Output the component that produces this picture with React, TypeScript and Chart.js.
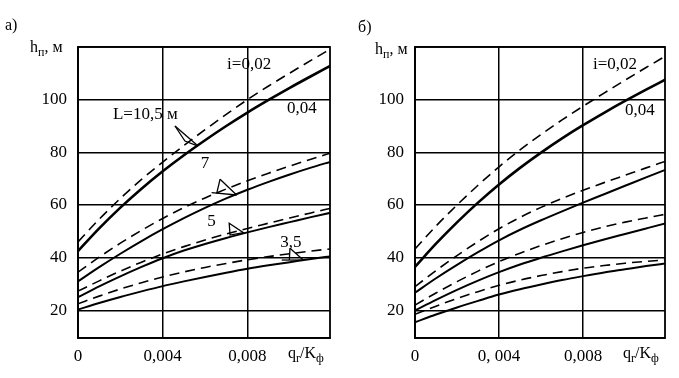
import React, { useEffect, useRef } from "react";
import { Chart, registerables } from "chart.js";
Chart.register(...registerables);

// ---- data ----
const qValues = [0, 0.001, 0.002, 0.003, 0.004, 0.005, 0.006, 0.007, 0.008, 0.009, 0.01, 0.011, 0.012];
const xTickValues = [0, 0.004, 0.008];
const xTickLabelsA = ["0", "0,004", "0,008"];
const xTickLabelsB = ["0", "0, 004", "0,008"];
const yTickValues = [20, 40, 60, 80, 100, 120];
const yTickLabels = ["20", "40", "60", "80", "100", ""];

// panel а)
const aL105i002 = [46, 54.6, 62.5, 69.7, 76.3, 82.6, 88.6, 94.4, 100.0, 105.2, 110.1, 114.9, 119.6];
const aL105i004 = [42.5, 51.1, 59.0, 66.2, 72.8, 78.9, 84.6, 90.0, 95.1, 99.9, 104.5, 108.9, 113.2];
const aL7i002 = [34.5, 40.2, 45.5, 50.4, 54.9, 59.0, 62.7, 66.1, 69.2, 72.1, 74.8, 77.4, 79.9];
const aL7i004 = [31, 36.4, 41.5, 46.3, 50.8, 55.0, 58.9, 62.5, 65.8, 68.8, 71.6, 74.2, 76.6];
const aL5i002 = [27.3, 31.2, 34.9, 38.3, 41.4, 44.2, 46.7, 49.0, 51.1, 53.1, 55.1, 57.0, 58.9];
const aL5i004 = [25, 29.1, 32.9, 36.5, 39.8, 42.7, 45.2, 47.5, 49.6, 51.6, 53.5, 55.4, 57.2];
const aL35i002 = [22.5, 25.4, 28.1, 30.5, 32.7, 34.6, 36.3, 37.8, 39.2, 40.4, 41.5, 42.5, 43.4];
const aL35i004 = [20.3, 22.8, 25.1, 27.2, 29.2, 31.0, 32.7, 34.3, 35.8, 37.1, 38.3, 39.5, 40.6];

// panel б)
const bL105i002 = [43.3, 52.0, 60.0, 67.5, 74.5, 80.9, 86.8, 92.3, 97.5, 102.5, 107.4, 112.2, 116.9];
const bL105i004 = [36.5, 45.3, 53.4, 60.9, 67.8, 74.1, 79.9, 85.3, 90.3, 95.0, 99.5, 103.8, 108.0];
const bL7i002 = [29, 35.1, 40.8, 46.1, 51.0, 55.3, 59.1, 62.5, 65.6, 68.5, 71.3, 74.1, 76.8];
const bL7i004 = [26.7, 32.2, 37.3, 42.1, 46.6, 50.6, 54.2, 57.6, 60.9, 64.1, 67.3, 70.5, 73.6];
const bL5i002 = [22, 26.6, 30.9, 34.9, 38.5, 41.7, 44.6, 47.2, 49.6, 51.7, 53.5, 55.1, 56.6];
const bL5i004 = [20, 24, 27.8, 31.3, 34.5, 37.4, 40.0, 42.4, 44.7, 46.9, 49.0, 51.1, 53.2];
const bL35i002 = [18.5, 21.6, 24.5, 27.1, 29.5, 31.5, 33.2, 34.7, 36.0, 37.0, 37.9, 38.6, 39.2];
const bL35i004 = [15.5, 18.4, 21.1, 23.6, 26.0, 28.0, 29.8, 31.5, 33.0, 34.4, 35.6, 36.8, 37.9];

const X_MAX = 0.0119;
const Y_MIN = 9.5;
const Y_MAX = 120;
const FONT = '"Liberation Serif", "Times New Roman", serif';

type Label = { text: string; q: number; v: number };
type Marker = { pts: [number, number][]; closed?: boolean };

const aLabels: Label[] = [
  { text: "i=0,02", q: 0.00704, v: 113.2 },
  { text: "0,04", q: 0.00987, v: 96.5 },
  { text: "L=10,5 м", q: 0.00165, v: 94.2 },
  { text: "7", q: 0.0058, v: 75.6 },
  { text: "5", q: 0.0061, v: 53.9 },
  { text: "3,5", q: 0.00955, v: 45.9 },
];
const aMarkers: Marker[] = [
  { pts: [[0.00458, 90], [0.00567, 82.4]] },
  { pts: [[0.00458, 90], [0.00505, 84.3], [0.00567, 82.4]] },
  { pts: [[0.00671, 69.8], [0.00655, 64.4]] },
  { pts: [[0.00671, 69.8], [0.00749, 63.8]] },
  { pts: [[0.00631, 64.7], [0.00749, 63.8]] },
  { pts: [[0.00714, 53.05], [0.00718, 48.6], [0.00781, 49.5]], closed: true },
  { pts: [[0.01001, 43.6], [0.00998, 39.1]] },
  { pts: [[0.01001, 43.6], [0.01064, 39.1]] },
  { pts: [[0.00962, 39.1], [0.01064, 39.1]] },
];
const bLabels: Label[] = [
  { text: "i=0,02", q: 0.00847, v: 113.5 },
  { text: "0,04", q: 0.01, v: 95.7 },
];
const bMarkers: Marker[] = [];

type PanelProps = {
  left: number;
  width: number;
  yAxisWidth: number;
  padRight: number;
  letter: string;
  letterX: number;
  letterY: number;
  titleDX: number;
  titleDY: number;
  series: number[][];
  xLabels: string[];
  labels: Label[];
  markers: Marker[];
};

function drawRich(
  ctx: CanvasRenderingContext2D,
  x: number,
  y: number,
  parts: { t: string; sub?: boolean }[],
  size: number
) {
  let cx = x;
  for (const p of parts) {
    const s = p.sub ? Math.round(size * 0.72) : size;
    ctx.font = `${s}px ${FONT}`;
    ctx.fillText(p.t, cx, p.sub ? y + size * 0.22 : y);
    cx += ctx.measureText(p.t).width;
  }
}

function Panel(props: PanelProps) {
  const ref = useRef<HTMLCanvasElement>(null);
  useEffect(() => {
    if (!ref.current) return;
    const datasets = props.series.map((arr, i) => {
      const dashed = i % 2 === 0;
      const big = i < 2;
      return {
        data: qValues.map((q, k) => ({ x: q, y: arr[k] })),
        borderColor: "#000",
        borderWidth: dashed ? 1.6 : big ? 2.6 : 2,
        borderDash: dashed ? [10, 6] : [],
        pointRadius: 0,
        fill: false,
        cubicInterpolationMode: "monotone" as const,
      };
    });
    const overlay = {
      id: "overlay",
      afterDatasetsDraw(chart: any) {
        const ctx: CanvasRenderingContext2D = chart.ctx;
        const a = chart.chartArea;
        const xs = chart.scales.x;
        const ys = chart.scales.y;
        ctx.save();
        ctx.strokeStyle = "#000";
        ctx.fillStyle = "#000";
        ctx.lineWidth = 1.8;
        ctx.strokeRect(a.left, a.top, a.right - a.left, a.bottom - a.top);
        ctx.font = `17px ${FONT}`;
        ctx.textBaseline = "middle";
        ctx.textAlign = "left";
        for (const l of props.labels) {
          ctx.fillText(l.text, xs.getPixelForValue(l.q), ys.getPixelForValue(l.v));
        }
        ctx.lineWidth = 1.3;
        for (const m of props.markers) {
          ctx.beginPath();
          m.pts.forEach(([q, v], k) => {
            const px = xs.getPixelForValue(q);
            const py = ys.getPixelForValue(v);
            if (k === 0) ctx.moveTo(px, py);
            else ctx.lineTo(px, py);
          });
          if (m.closed) ctx.closePath();
          ctx.stroke();
        }
        ctx.textBaseline = "alphabetic";
        drawRich(ctx, a.left + props.titleDX, a.top + props.titleDY,
          [{ t: "h" }, { t: "п", sub: true }, { t: ", м" }], 16);
        drawRich(ctx, a.right - 42, a.bottom + 20,
          [{ t: "q" }, { t: "r", sub: true }, { t: "/K" }, { t: "ф", sub: true }], 16);
        ctx.font = `16px ${FONT}`;
        ctx.fillText(props.letter, props.letterX, props.letterY);
        ctx.restore();
      },
    };
    const chart = new Chart(ref.current, {
      type: "line",
      data: { datasets },
      plugins: [overlay],
      options: {
        animation: false,
        responsive: false,
        events: [],
        layout: { autoPadding: false, padding: { left: 0, top: 47, right: props.padRight, bottom: 0 } },
        plugins: { legend: { display: false }, tooltip: { enabled: false }, title: { display: false } },
        scales: {
          x: {
            type: "linear",
            min: 0,
            max: X_MAX,
            afterBuildTicks: (s: any) => {
              s.ticks = xTickValues.map((v) => ({ value: v }));
            },
            afterFit: (s: any) => {
              s.height = 40;
            },
            ticks: {
              color: "#000",
              font: { family: FONT, size: 17 },
              padding: 8,
              maxRotation: 0,
              autoSkip: false,
              callback: (v: any) => {
                const k = xTickValues.indexOf(Number(v));
                return k >= 0 ? props.xLabels[k] : "";
              },
            },
            grid: { color: "#000", lineWidth: 1.5, drawTicks: false },
            border: { display: true, color: "#000", width: 1.8 },
          },
          y: {
            type: "linear",
            min: Y_MIN,
            max: Y_MAX,
            afterBuildTicks: (s: any) => {
              s.ticks = yTickValues.map((v) => ({ value: v }));
            },
            afterFit: (s: any) => {
              s.width = props.yAxisWidth;
            },
            ticks: {
              color: "#000",
              font: { family: FONT, size: 17 },
              padding: 11,
              autoSkip: false,
              callback: (v: any) => {
                const k = yTickValues.indexOf(Number(v));
                return k >= 0 ? yTickLabels[k] : "";
              },
            },
            grid: { color: "#000", lineWidth: 1.5, drawTicks: false },
            border: { display: true, color: "#000", width: 1.8 },
          },
        },
      } as any,
    });
    return () => chart.destroy();
  }, []);
  return (
    <canvas
      ref={ref}
      width={props.width}
      height={378}
      style={{ position: "absolute", left: props.left, top: 0, width: props.width, height: 378 }}
    />
  );
}

export default function App() {
  return (
    <div style={{ position: "absolute", left: 0, top: 0, width: 679, height: 378, background: "#fff" }}>
      <Panel
        left={0}
        width={340}
        yAxisWidth={78}
        padRight={10}
        letter="а)"
        letterX={5}
        letterY={30}
        titleDX={-48}
        titleDY={5}
        series={[aL105i002, aL105i004, aL7i002, aL7i004, aL5i002, aL5i004, aL35i002, aL35i004]}
        xLabels={xTickLabelsA}
        labels={aLabels}
        markers={aMarkers}
      />
      <Panel
        left={340}
        width={339}
        yAxisWidth={75}
        padRight={14}
        letter="б)"
        letterX={18}
        letterY={32}
        titleDX={-40}
        titleDY={7}
        series={[bL105i002, bL105i004, bL7i002, bL7i004, bL5i002, bL5i004, bL35i002, bL35i004]}
        xLabels={xTickLabelsB}
        labels={bLabels}
        markers={bMarkers}
      />
    </div>
  );
}
